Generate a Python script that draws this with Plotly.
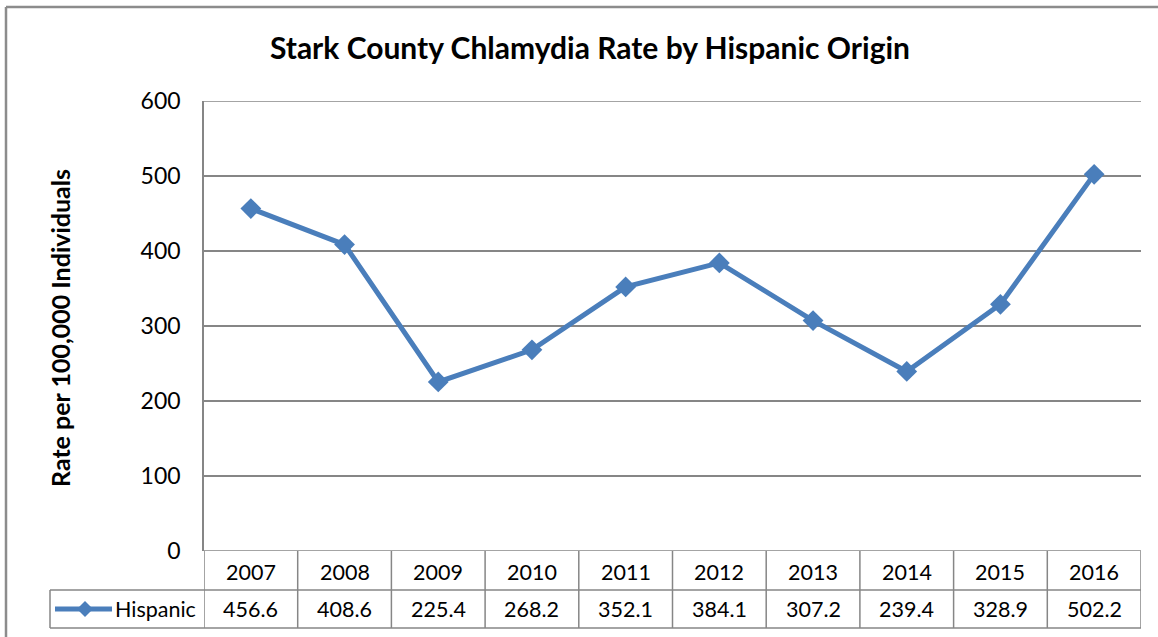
import plotly.graph_objects as go

years = ["2007", "2008", "2009", "2010", "2011", "2012", "2013", "2014", "2015", "2016"]
rates = [456.6, 408.6, 225.4, 268.2, 352.1, 384.1, 307.2, 239.4, 328.9, 502.2]
series_name = "Hispanic"
y_ticks = [0, 100, 200, 300, 400, 500, 600]

LINE_COLOR = "#4a7ebb"
GRID = "#868686"
FONT = "Lato, 'Open Sans', sans-serif"

W, H = 1158, 637
L, R, T, B = 204, 17, 101, 86
plot_h = H - T - B
plot_w = W - L - R

def py(pix):
    return (H - B - pix) / plot_h

def px(pix):
    return (pix - L) / plot_w

xs = list(range(len(years)))

fig = go.Figure()
fig.add_trace(go.Scatter(
    x=xs, y=rates, mode="lines+markers", name=series_name,
    line=dict(color=LINE_COLOR, width=5),
    marker=dict(symbol="diamond", size=16, color=LINE_COLOR),
    showlegend=False, cliponaxis=False,
))

shapes = []
line_style = dict(color=GRID, width=1.5)
row1_bot = py(590)
row2_bot = py(628)
for v in (y_ticks[0], y_ticks[-1]):
    shapes.append(dict(type="line", xref="paper", yref="y", x0=0, x1=1,
                       y0=v, y1=v, line=line_style))
for i in range(len(years) + 1):
    shapes.append(dict(type="line", xref="x", yref="paper",
                       x0=i - 0.5, x1=i - 0.5, y0=0, y1=row2_bot, line=line_style))
for yy in (row1_bot, row2_bot):
    shapes.append(dict(type="line", xref="paper", yref="paper",
                       x0=px(50), x1=1, y0=yy, y1=yy, line=line_style))
shapes.append(dict(type="line", xref="paper", yref="paper",
                   x0=px(50), x1=px(50), y0=row1_bot, y1=row2_bot, line=line_style))
shapes.append(dict(type="line", xref="paper", yref="paper",
                   x0=px(6), x1=px(1170), y0=py(7), y1=py(7),
                   line=dict(color="#8c8c8c", width=2.5)))
shapes.append(dict(type="line", xref="paper", yref="paper",
                   x0=px(6), x1=px(6), y0=py(7), y1=py(650),
                   line=dict(color="#8c8c8c", width=2.5)))

key_y = 609
shapes.append(dict(type="line", xref="paper", yref="paper", x0=px(55), x1=px(112),
                   y0=py(key_y), y1=py(key_y), line=dict(color=LINE_COLOR, width=5)))
d = 8
shapes.append(dict(type="path", xref="paper", yref="paper",
                   path=(f"M {px(85 - d)} {py(key_y)} L {px(85)} {py(key_y - d)} "
                         f"L {px(85 + d)} {py(key_y)} L {px(85)} {py(key_y + d)} Z"),
                   fillcolor=LINE_COLOR, line=dict(width=0)))

annotations = []
TF = dict(family=FONT, size=21.5, color="#000")
for i, (yr, v) in enumerate(zip(years, rates)):
    annotations.append(dict(x=i, xref="x", y=py(572), yref="paper", text=yr,
                            xanchor="center", yanchor="middle", showarrow=False, font=TF))
    annotations.append(dict(x=i, xref="x", y=py(609), yref="paper", text=f"{v:.1f}",
                            xanchor="center", yanchor="middle", showarrow=False, font=TF))
annotations.append(dict(x=px(198), xref="paper", y=py(609), yref="paper",
                        text=series_name, xanchor="right", yanchor="middle",
                        showarrow=False, font=TF))
annotations.append(dict(x=px(60), xref="paper", y=py(328), yref="paper",
                        text="<b>Rate per 100,000 Individuals</b>", textangle=-90,
                        xanchor="center", yanchor="middle",
                        showarrow=False, font=dict(family=FONT, size=25, color="#000")))

fig.update_layout(
    width=W, height=H,
    margin=dict(l=L, r=R, t=T, b=B),
    paper_bgcolor="white", plot_bgcolor="white",
    title=dict(text="<b>Stark County Chlamydia Rate by Hispanic Origin</b>",
               x=590 / W, xanchor="center", y=1 - 48 / H, yanchor="middle",
               font=dict(family=FONT, size=30, color="#000")),
    xaxis=dict(range=[-0.5, len(years) - 0.5], showticklabels=False, showgrid=False,
               zeroline=False, showline=False, ticks=""),
    yaxis=dict(range=[0, 600], tickvals=y_ticks, showgrid=True, gridcolor=GRID, gridwidth=1.5,
               showline=True, linecolor=GRID, linewidth=1.5, zeroline=False,
               ticks="", ticklabelstandoff=17,
               tickfont=dict(family=FONT, size=23, color="#000")),
    shapes=shapes, annotations=annotations,
)

fig.write_html("out.html", config={"displayModeBar": False},
               post_script="document.body.style.margin='0';document.body.style.padding='0';")
